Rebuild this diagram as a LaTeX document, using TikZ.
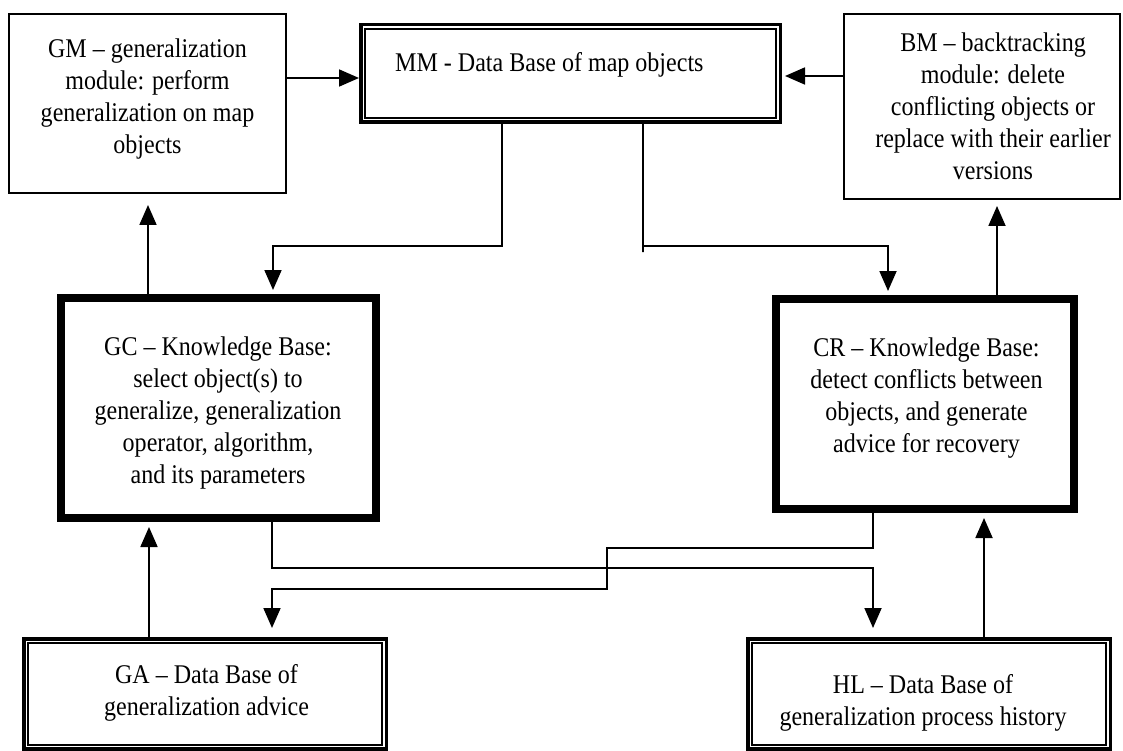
\documentclass[tikz,border=0pt]{standalone}
\usepackage{fontspec}
\setmainfont{Liberation Serif}[FakeStretch=0.89]
\usetikzlibrary{arrows.meta}
\begin{document}
\begin{tikzpicture}[x=1pt,y=-1pt,
  thinbox/.style={draw, line width=1.8pt, inner sep=0pt},
  thickbox/.style={draw, line width=8pt, inner sep=0pt},
  dbbox/.style={draw, line width=3.5pt, inner sep=0pt},
  dbinner/.style={line width=2pt},
  txt/.style={align=center, inner sep=0pt, font=\fontsize{27}{32}\selectfont},
  conn/.style={line width=1.8pt},
  arr/.style={line width=1.8pt, -{Triangle[length=20pt,width=17pt]}},
]
\useasboundingbox (0,0) rectangle (1123,751);
\fill[white] (0,0) rectangle (1123,751);

% boxes
\node[thinbox, minimum width=277.2pt, minimum height=179.2pt] (gm) at (147.5,103.5) {};
\node[dbbox, minimum width=419.5pt, minimum height=97.5pt] (mm) at (570.5,73.5) {};
\node[thinbox, minimum width=276.2pt, minimum height=185.2pt] (bm) at (982,106.5) {};
\node[thickbox, minimum width=315pt, minimum height=220pt] (gc) at (218.5,408) {};
\node[thickbox, minimum width=298pt, minimum height=210pt] (cr) at (925,404) {};
\node[dbbox, minimum width=362.5pt, minimum height=110pt] (ga) at (205,693.75) {};
\node[dbbox, minimum width=362.5pt, minimum height=110pt] (hl) at (929,693.75) {};
\draw[dbinner] ([shift={(6,6)}]mm.north west) rectangle ([shift={(-6,-6)}]mm.south east);
\draw[dbinner] ([shift={(6,6)}]ga.north west) rectangle ([shift={(-6,-6)}]ga.south east);
\draw[dbinner] ([shift={(6,6)}]hl.north west) rectangle ([shift={(-6,-6)}]hl.south east);

% texts
\node[txt] (gmt) at (147.5,99.5) {GM – generalization\\module: perform\\generalization on map\\objects};
\node[txt, anchor=base west] (mmt) at (395,72) {MM - Data Base of map objects};
\node[txt] (bmt) at (993,106.5) {BM – backtracking\\module: delete\\conflicting objects or\\replace with their earlier\\versions};
\node[txt] (gct) at (218,413.5) {GC – Knowledge Base:\\select object(s) to\\generalize, generalization\\operator, algorithm,\\and its parameters};
\node[txt] (crt) at (926.5,398) {CR – Knowledge Base:\\detect conflicts between\\objects, and generate\\advice for recovery};
\node[txt] (gat) at (206.5,692.5) {GA – Data Base of\\generalization advice};
\node[txt] (hlt) at (923,702.5) {HL – Data Base of\\generalization process history};

% helper coordinates
\coordinate (r1) at (0,78);
\coordinate (r2) at (0,76);
\coordinate (p1) at (502,246);
\coordinate (p2) at (273,246);
\coordinate (s0) at (643,252);
\coordinate (s1) at (643,246);
\coordinate (s2) at (888,246);
\coordinate (q1) at (148,0);
\coordinate (q2) at (997,0);
\coordinate (t1) at (272,568);
\coordinate (t2) at (873,568);
\coordinate (u1) at (873,548);
\coordinate (u2) at (607,548);
\coordinate (u3) at (607,589);
\coordinate (u4) at (272,589);
\coordinate (v1) at (149,0);
\coordinate (v2) at (984,0);

% connectors
\draw[arr] (gm.east |- r1) -- (mm.west |- r1);
\draw[arr, shorten >=3pt] (bm.west |- r2) -- (mm.east |- r2);
\draw[arr, shorten >=4pt] (mm.south -| p1) -- (p1) -- (p2) -- (p2 |- gc.north);
\draw[arr, shorten >=4pt] (mm.south -| s0) -- (s0) -- (s1) -- (s2) -- (s2 |- cr.north);
\draw[arr, shorten >=11pt] (gc.north -| q1) -- (gm.south -| q1);
\draw[arr, shorten >=6pt] (cr.north -| q2) -- (bm.south -| q2);
\draw[arr, shorten >=9pt] (gc.south -| t1) -- (t1) -- (t2) -- (t2 |- hl.north);
\draw[arr, shorten >=9pt] (cr.south -| u1) -- (u1) -- (u2) -- (u3) -- (u4) -- (u4 |- ga.north);
\draw[arr, shorten >=5pt] (ga.north -| v1) -- (gc.south -| v1);
\draw[arr, shorten >=5pt] (hl.north -| v2) -- (cr.south -| v2);
\end{tikzpicture}
\end{document}
